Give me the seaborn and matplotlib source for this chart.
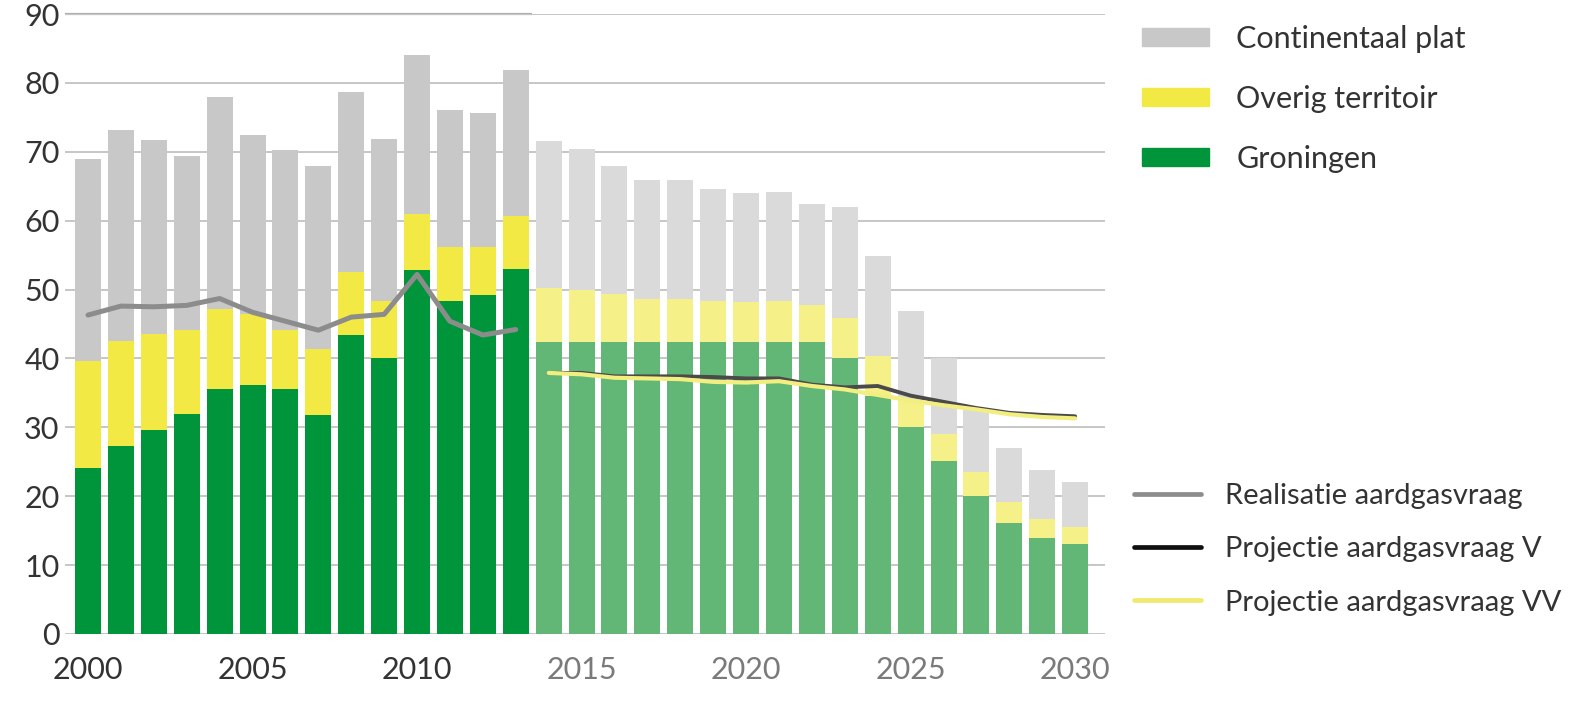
import numpy as np
import pandas as pd
import matplotlib
matplotlib.use("Agg")
import matplotlib.pyplot as plt
import matplotlib.patches as mpatches
from matplotlib.lines import Line2D
import seaborn as sns

# ---- data (bcm) ----
years = list(range(2000, 2031))
groningen = [24.1, 27.3, 29.6, 31.9, 35.5, 36.1, 35.6, 31.8, 43.4, 40.0, 52.8, 48.3, 49.2, 53.0,
             42.4, 42.4, 42.4, 42.4, 42.4, 42.4, 42.4, 42.4, 42.4,
             40.0, 34.5, 30.0, 25.1, 20.0, 16.1, 14.0, 13.0]
overig = [15.6, 15.2, 14.0, 12.3, 11.7, 10.3, 8.5, 9.5, 9.2, 8.3, 8.1, 7.9, 7.0, 7.7,
          7.8, 7.5, 7.0, 6.3, 6.3, 5.9, 5.8, 5.9, 5.4,
          5.9, 5.8, 4.0, 4.0, 3.5, 3.0, 2.7, 2.6]
continentaal = [29.2, 30.6, 28.1, 25.2, 30.7, 26.0, 26.2, 26.7, 26.1, 23.6, 23.1, 19.8, 19.4, 21.2,
                21.3, 20.5, 18.5, 17.2, 17.2, 16.3, 15.8, 15.8, 14.6,
                16.1, 14.6, 12.9, 10.9, 9.0, 7.9, 7.1, 6.5]

real_years = list(range(2000, 2014))
realisatie = [46.3, 47.6, 47.5, 47.7, 48.7, 46.7, 45.4, 44.1, 46.0, 46.4, 52.2, 45.4, 43.4, 44.2]

proj_years = list(range(2014, 2031))
proj_v = [37.9, 37.9, 37.4, 37.4, 37.4, 37.3, 37.1, 37.1, 36.2, 35.8, 36.0, 34.6, 33.7, 32.8, 32.1, 31.8, 31.6]
proj_vv = [37.9, 37.7, 37.2, 37.1, 37.0, 36.6, 36.5, 36.7, 36.0, 35.5, 34.7, 33.9, 33.2, 32.6, 31.9, 31.5, 31.3]

df = pd.DataFrame({"jaar": years, "groningen": groningen, "overig": overig, "continentaal": continentaal})
df["periode"] = np.where(df["jaar"] <= 2013, "hist", "proj")
df["top_yellow"] = df["groningen"] + df["overig"]
df["total"] = df["top_yellow"] + df["continentaal"]

# colours: historical vs projection
gray_pal = {"hist": "#c8c8c8", "proj": "#dadada"}
yellow_pal = {"hist": "#f3e945", "proj": "#f6f089"}
green_pal = {"hist": "#00953b", "proj": "#63b776"}

sns.set_style("white")
plt.rcParams["font.family"] = ["Lato", "DejaVu Sans"]

fig = plt.figure(figsize=(15.85, 7.01), dpi=100)
ax = fig.add_axes([0.041, 0.0956, 0.656, 0.8844])

# stacked bars: draw cumulative layers on top of each other
for col, pal in [("total", gray_pal), ("top_yellow", yellow_pal), ("groningen", green_pal)]:
    sns.barplot(data=df, x="jaar", y=col, hue="periode", palette=pal, native_scale=True,
                width=0.79, dodge=False, legend=False, saturation=1, ax=ax, linewidth=0)

# lines
sns.lineplot(x=real_years, y=realisatie, color="#8c8c8c", lw=3.6, ax=ax)
sns.lineplot(x=proj_years, y=proj_v, color="#4a4a4a", lw=2.8, ax=ax)
sns.lineplot(x=proj_years, y=proj_vv, color="#f3ee80", lw=3.0, ax=ax)

ax.set_xlim(1999.3, 2030.9)
ax.set_ylim(0, 90)
ax.set_yticks(range(0, 91, 10))
ax.set_xticks(range(2000, 2031, 5))
ax.set_xlabel("")
ax.set_ylabel("")
ax.yaxis.grid(True, color="#c6c6c6", lw=1.4)
ax.set_axisbelow(True)
# top rule is a bit darker above the historical years
ax.hlines(90, 1999.3, 2013.5, color="#b0b0b0", lw=1.6, clip_on=False, zorder=0.5)
for s in ax.spines.values():
    s.set_visible(False)
ax.tick_params(axis="y", length=0, pad=4, labelsize=22, labelcolor="#333333")
ax.tick_params(axis="x", length=0, pad=16, labelsize=22)
for lab in ax.get_xticklabels():
    lab.set_color("#333333" if int(lab.get_text()) <= 2010 else "#7a7a7a")

# legends
bar_handles = [mpatches.Patch(color="#c8c8c8", label="Continentaal plat"),
               mpatches.Patch(color="#f3e945", label="Overig territoir"),
               mpatches.Patch(color="#00953b", label="Groningen")]
fig.legend(handles=bar_handles, loc="upper left", bbox_to_anchor=(0.703, 1.004),
           frameon=False, fontsize=22, handlelength=2.2, handleheight=0.5,
           handletextpad=0.9, labelspacing=1.05, labelcolor="#333333")

line_handles = [Line2D([], [], color="#8c8c8c", lw=3.4, label="Realisatie aardgasvraag"),
                Line2D([], [], color="#111111", lw=3.4, label="Projectie aardgasvraag V"),
                Line2D([], [], color="#f0ea70", lw=3.4, label="Projectie aardgasvraag VV")]
fig.legend(handles=line_handles, loc="upper left", bbox_to_anchor=(0.699, 0.348),
           frameon=False, fontsize=21, handlelength=2.3, handletextpad=0.8,
           labelspacing=0.93, labelcolor="#333333")

fig.savefig("out.png", dpi=100)
